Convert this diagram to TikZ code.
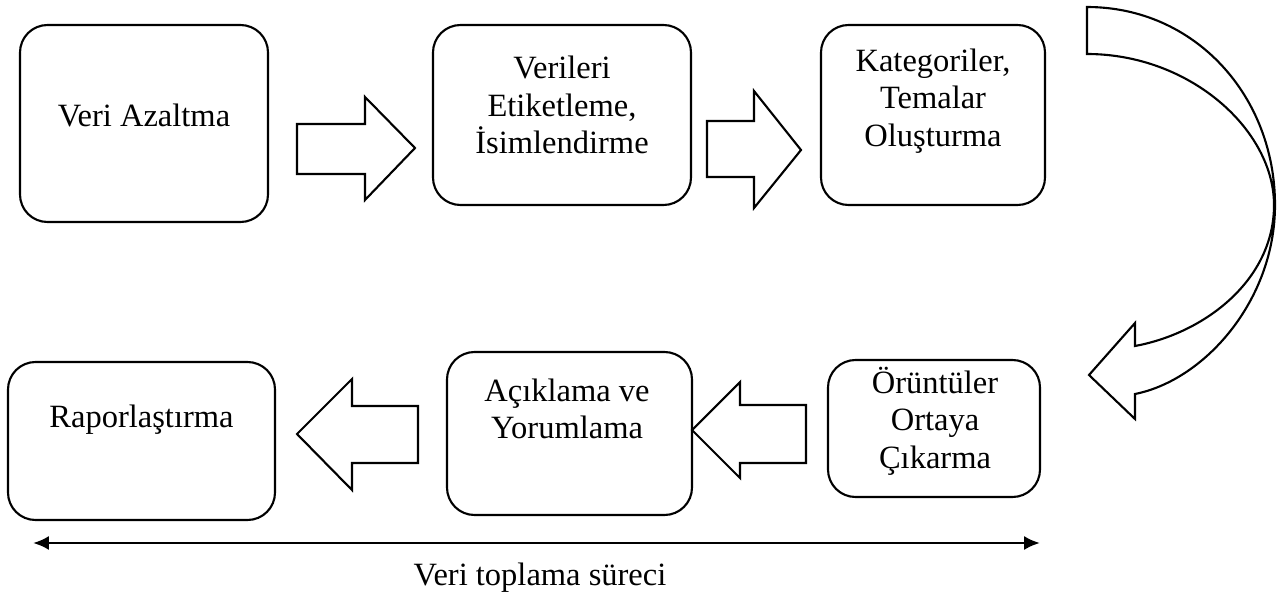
\documentclass[tikz,border=0pt]{standalone}
\usepackage{fontspec}
\setmainfont{Liberation Serif}
\usetikzlibrary{arrows.meta}

\begin{document}
\begin{tikzpicture}[x=0.02cm,y=-0.02cm,
    stage/.style={draw,line width=1.2pt,rounded corners=0.55cm,inner sep=0pt},
    txt/.style={align=center,font=\fontsize{18.5}{21.3}\selectfont},
    blockarrow/.style={draw,line width=1.2pt,line join=miter}]
\useasboundingbox (0,0) rectangle (1278,595);
% top row
\node[stage,minimum width=248*0.02cm,minimum height=197*0.02cm] (azalt) at (144,123.5) {};
\node[stage,minimum width=258*0.02cm,minimum height=180*0.02cm] (etiket) at (562,115) {};
\node[stage,minimum width=224*0.02cm,minimum height=180*0.02cm] (kateg) at (933,115) {};
\node[txt] (tazalt) at (144,115) {Veri Azaltma};
\node[txt] (tetiket) at (562,105) {Verileri\\Etiketleme,\\İsimlendirme};
\node[txt] (tkateg) at (933,101) {Kategoriler,\\Temalar\\Oluşturma};
% bottom row
\node[stage,minimum width=267*0.02cm,minimum height=158*0.02cm] (rapor) at (141.5,441) {};
\node[stage,minimum width=245*0.02cm,minimum height=163*0.02cm] (aciklama) at (569.5,433.5) {};
\node[stage,minimum width=212*0.02cm,minimum height=137*0.02cm] (oruntu) at (934,428.5) {};
\node[txt] (trapor) at (141.5,420) {Raporlaştırma};
\node[txt] (taciklama) at (567,409) {Açıklama ve\\Yorumlama};
\node[txt] (toruntu) at (935,421) {Örüntüler\\Ortaya\\Çıkarma};
% block arrows
\draw[blockarrow] (297,124) -- (365,124) -- (365,97) -- (415,148) -- (365,200) -- (365,174) -- (297,174) -- cycle;
\draw[blockarrow] (707,121) -- (754,121) -- (754,91) -- (801,150) -- (754,208) -- (754,177) -- (707,177) -- cycle;
\draw[blockarrow] (418,406) -- (352,406) -- (352,379) -- (297,434) -- (352,490) -- (352,463) -- (418,463) -- cycle;
\draw[blockarrow] (806,405) -- (740,405) -- (740,382) -- (692,430) -- (740,478) -- (740,463) -- (806,463) -- cycle;
% curved arrow
\draw[blockarrow] (1087,7) .. controls (1195,7) and (1275,96) .. (1275,205)
  .. controls (1275,300) and (1205,380) .. (1135,394) -- (1135,419) -- (1089,375)
  -- (1135,323) -- (1135,346) .. controls (1205,333) and (1274,280) .. (1274,205)
  .. controls (1274,130) and (1190,54) .. (1087,54) -- cycle;
% time line
\coordinate (tl) at (33,543);
\coordinate (tr) at (1040,543);
\draw[{Latex[length=9pt,width=8pt]}-{Latex[length=9pt,width=8pt]},line width=1.6pt] (tl) -- (tr);
\node[txt] (sure) at (540,578) {Veri toplama süreci};
\end{tikzpicture}
\end{document}
